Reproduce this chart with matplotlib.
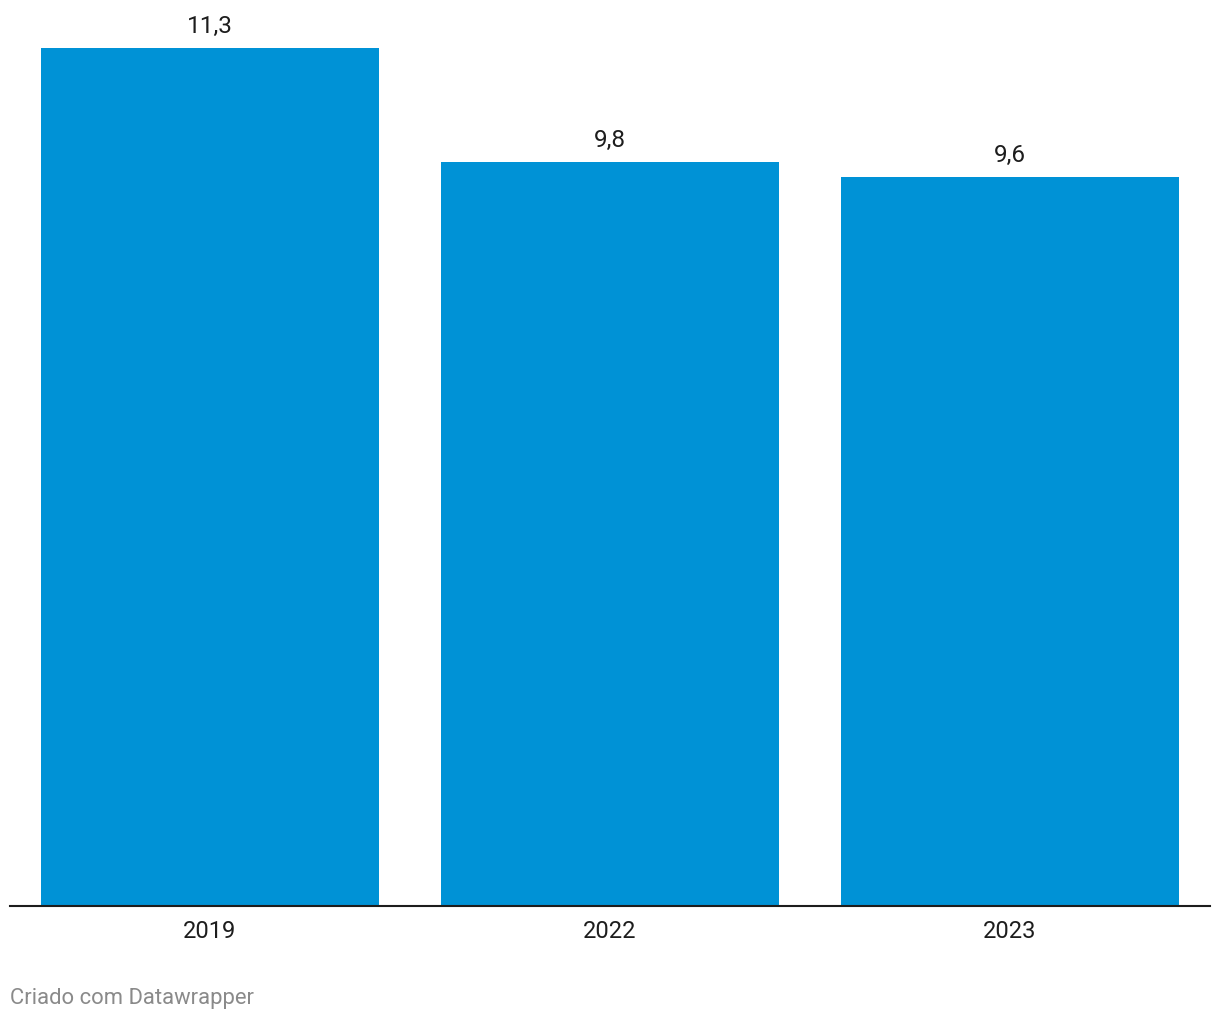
import matplotlib.pyplot as plt

years = ["2019", "2022", "2023"]
values = [11.3, 9.8, 9.6]
labels = ["11,3", "9,8", "9,6"]

plt.rcParams['font.family'] = ['Roboto', 'DejaVu Sans']

fig = plt.figure(figsize=(12.2, 10.2), dpi=100)
ax = fig.add_axes([10 / 1220, 113 / 1020, 1200 / 1220, 858 / 1020])

x = range(len(years))
ax.bar(x, values, width=0.845, color='#0092d6')
for i, (v, lab) in enumerate(zip(values, labels)):
    ax.text(i, v + 0.145, lab, ha='center', va='bottom', fontsize=17.5, color='#1d1d1d', clip_on=False)

ax.set_xlim(-0.5, 2.5)
ax.set_ylim(0, 11.3)
ax.set_xticks(list(x))
ax.set_xticklabels(years, fontsize=17, color='#1d1d1d')
ax.tick_params(axis='x', length=0, pad=9.5)
ax.set_yticks([])
for s in ['top', 'right', 'left']:
    ax.spines[s].set_visible(False)
ax.spines['bottom'].set_color('#1d1d1d')
ax.spines['bottom'].set_linewidth(1.5)

fig.text(10 / 1220, 1 - 999 / 1020, "Criado com Datawrapper", fontsize=15.8, color='#8a8a8a',
         ha='left', va='center')

fig.savefig('out.png', dpi=100)
